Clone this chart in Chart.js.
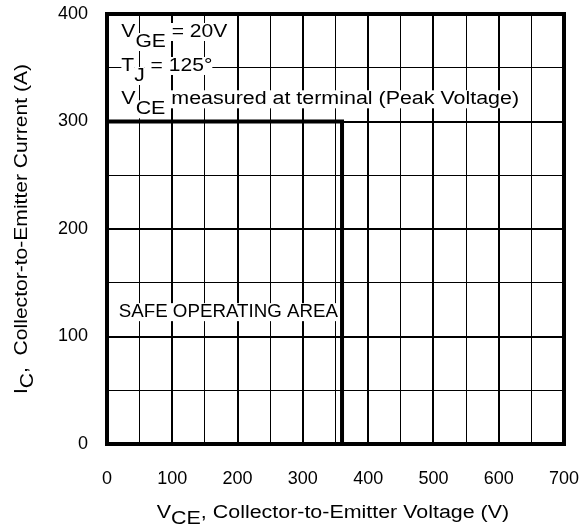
<!DOCTYPE html>
<html>
<head>
<meta charset="utf-8">
<script src="https://cdn.jsdelivr.net/npm/chart.js@4.4.1/dist/chart.umd.min.js"></script>
<style>
  html, body { margin: 0; padding: 0; background: #fff; }
  #wrap { width: 584px; height: 531px; }
</style>
</head>
<body>
<div id="wrap"><canvas id="soaChart"></canvas></div>
<script>
// axis grid (every 50) and labelled ticks (every 100)
const voltageGrid = [0, 50, 100, 150, 200, 250, 300, 350, 400, 450, 500, 550, 600, 650, 700];
const voltageLabels = [0, 100, 200, 300, 400, 500, 600, 700];
const currentGrid = [0, 50, 100, 150, 200, 250, 300, 350, 400];
const currentLabels = [0, 100, 200, 300, 400];

// safe operating area boundary
const soaVoltage = [0, 360, 360];
const soaCurrent = [300, 300, 0];

const FONT = "'Liberation Sans', Arial, Helvetica, sans-serif";

// draws text made of normal / subscript pieces (stretched by sx), white box behind each piece
function drawPieces(ctx, pieces, x, y, subOff, sx, box) {
  ctx.save();
  ctx.translate(x, y);
  ctx.scale(sx, 1);
  let cx = 0;
  pieces.forEach(p => {
    const by = p.sub ? subOff : 0;
    const w = ctx.measureText(p.t).width;
    if (box) {
      ctx.fillStyle = '#fff';
      ctx.fillRect(cx, by - 14, w, 18);
    }
    ctx.fillStyle = '#000';
    ctx.fillText(p.t, cx, by);
    cx += w;
  });
  ctx.restore();
}

function piecesWidth(ctx, pieces) {
  return pieces.reduce((s, p) => s + ctx.measureText(p.t).width, 0);
}

const notes = [
  { x: 22, y: 378.6, sx: 1.17, parts: [{ t: 'V' }, { t: 'GE', sub: true }, { t: ' = 20V' }] },
  { x: 22, y: 347, sx: 1.17, parts: [{ t: 'T' }, { t: 'J', sub: true }, { t: ' = 125°' }] },
  { x: 22, y: 316, sx: 1.19, parts: [{ t: 'V' }, { t: 'CE', sub: true }, { t: ' measured at terminal (Peak Voltage)' }] },
  { x: 18, y: 118, sx: 1.04, parts: [{ t: 'SAFE OPERATING AREA' }] }
];

const soaPlugin = {
  id: 'soaPlugin',
  afterDatasetsDraw(chart) {
    const { ctx, scales: { x, y } } = chart;
    ctx.save();
    ctx.font = '18px ' + FONT;
    ctx.textBaseline = 'alphabetic';
    ctx.textAlign = 'left';
    notes.forEach(n => {
      drawPieces(ctx, n.parts, x.getPixelForValue(n.x), y.getPixelForValue(n.y), 10, n.sx, true);
    });
    ctx.restore();
  },
  afterDraw(chart) {
    const { ctx, scales: { x, y } } = chart;
    const l = x.getPixelForValue(x.min), r = x.getPixelForValue(x.max);
    const t = y.getPixelForValue(y.max), b = y.getPixelForValue(y.min);
    ctx.save();
    // frame
    ctx.strokeStyle = '#000';
    ctx.lineWidth = 4;
    ctx.strokeRect(l, t, r - l, b - t);

    ctx.font = '18px ' + FONT;
    ctx.textBaseline = 'alphabetic';
    ctx.textAlign = 'left';
    // x title
    const xt = [{ t: 'V' }, { t: 'CE', sub: true }, { t: ', Collector-to-Emitter Voltage (V)' }];
    const xs = 1.19;
    const xw = piecesWidth(ctx, xt) * xs;
    drawPieces(ctx, xt, 333 - xw / 2, 518, 6, xs, false);
    // y title
    const yt = [{ t: 'I' }, { t: 'C', sub: true }, { t: ',  Collector-to-Emitter Current (A)' }];
    const ys = 1.17;
    const yw = piecesWidth(ctx, yt) * ys;
    ctx.translate(27, (t + b) / 2);
    ctx.rotate(-Math.PI / 2);
    drawPieces(ctx, yt, -yw / 2, 0, 6, ys, false);
    ctx.restore();
  }
};

const majorWidth = (labels) => (c) => labels.includes(c.tick.value) ? 2 : 1;

new Chart(document.getElementById('soaChart'), {
  type: 'scatter',
  data: {
    datasets: [{
      label: 'SOA',
      data: soaVoltage.map((v, i) => ({ x: v, y: soaCurrent[i] })),
      showLine: true,
      borderColor: '#000',
      borderWidth: 4,
      pointRadius: 0,
      fill: false,
      tension: 0
    }]
  },
  options: {
    responsive: true,
    maintainAspectRatio: false,
    animation: false,
    layout: { padding: { top: 14, right: 20, left: 0, bottom: 0 } },
    plugins: {
      legend: { display: false },
      tooltip: { enabled: false }
    },
    scales: {
      x: {
        type: 'linear',
        min: 0,
        max: 700,
        afterBuildTicks: (s) => { s.ticks = voltageGrid.map(v => ({ value: v })); },
        afterFit: (s) => { s.height = 87; s.paddingLeft = 0; s.paddingRight = 0; },
        grid: { color: '#000', lineWidth: majorWidth(voltageLabels), drawTicks: false },
        border: { display: false },
        ticks: {
          autoSkip: false,
          maxRotation: 0,
          padding: 24,
          color: '#000',
          font: { family: FONT, size: 18 },
          callback: (v) => voltageLabels.includes(v) ? String(v) : ''
        }
      },
      y: {
        type: 'linear',
        min: 0,
        max: 400,
        afterBuildTicks: (s) => { s.ticks = currentGrid.map(v => ({ value: v })); },
        afterFit: (s) => { s.width = 107; s.paddingTop = 0; s.paddingBottom = 0; },
        grid: { color: '#000', lineWidth: majorWidth(currentLabels), drawTicks: false },
        border: { display: false },
        ticks: {
          autoSkip: false,
          padding: 19,
          color: '#000',
          font: { family: FONT, size: 18 },
          callback: (v) => currentLabels.includes(v) ? String(v) : ''
        }
      }
    }
  },
  plugins: [soaPlugin]
});
</script>
</body>
</html>
